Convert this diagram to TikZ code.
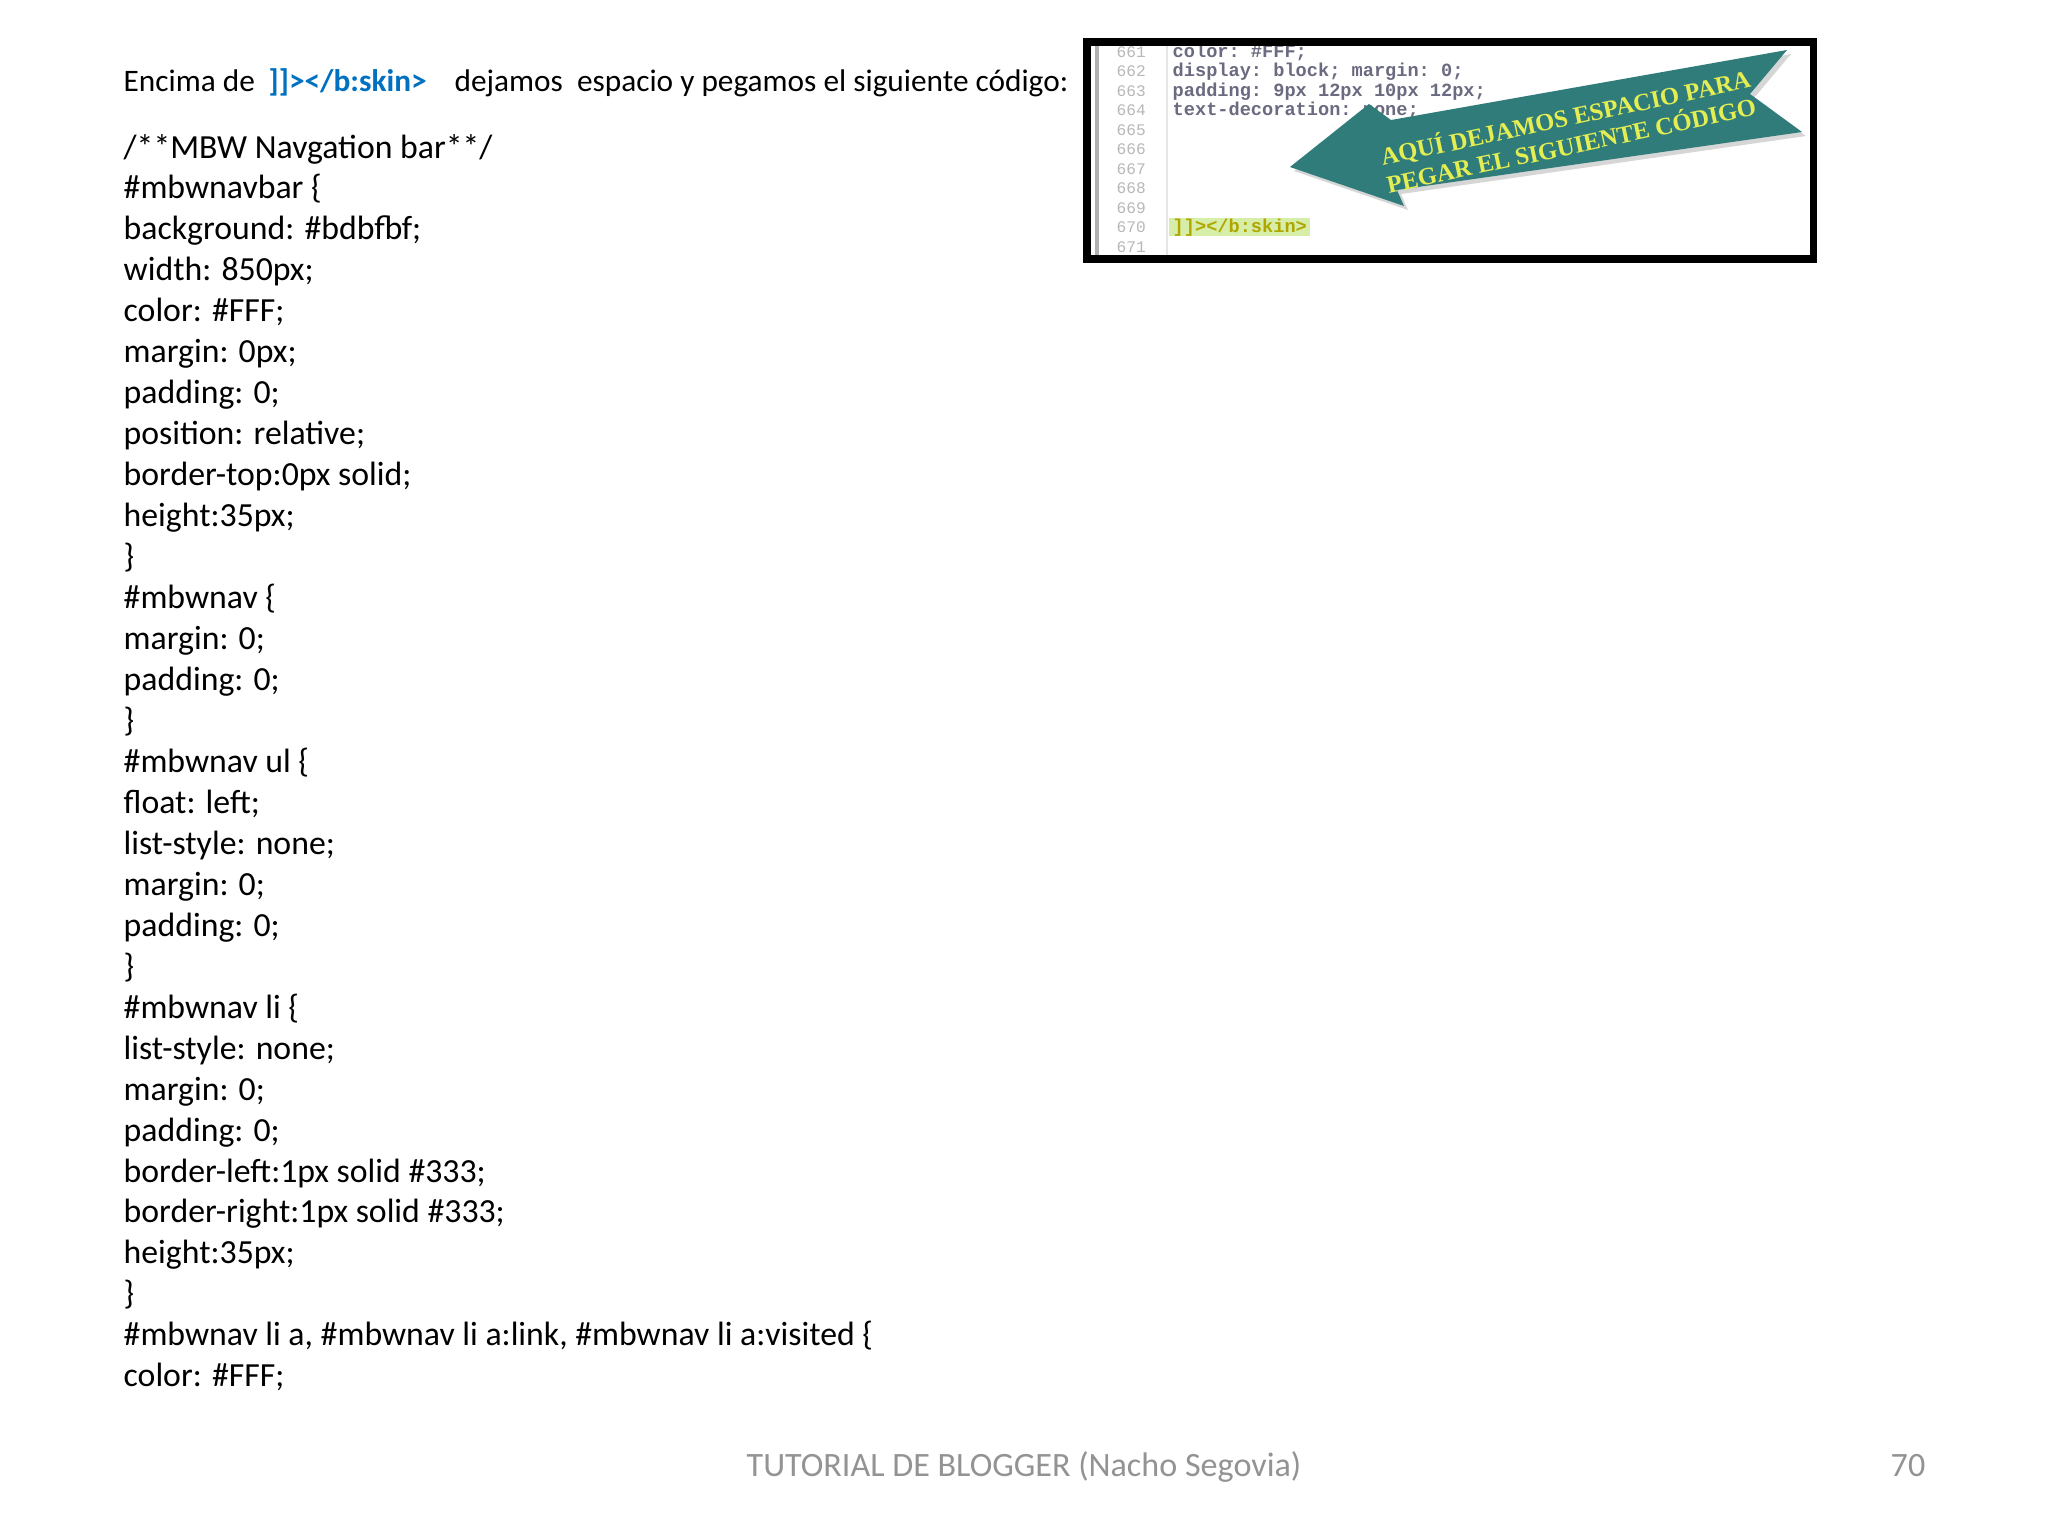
\documentclass[tikz,border=0pt]{standalone}
\usepackage{fontspec}
\setmainfont{Carlito}
\setmonofont{Liberation Mono}
\newfontfamily\serifb{Liberation Serif}
\definecolor{codeblue}{HTML}{0070C0}
\definecolor{teal2}{HTML}{2F7C7A}
\definecolor{lnum}{HTML}{B8B8B8}
\definecolor{codeg}{HTML}{6A6A80}
\begin{document}
\begin{tikzpicture}[x=0.01cm,y=-0.01cm,
  codeline/.style={anchor=base west,inner sep=0,font=\fontsize{9.6}{11}\selectfont},
  ln/.style={anchor=base west,inner sep=0,font=\ttfamily\fontsize{4.6}{5}\selectfont,text=lnum},
  cl/.style={anchor=base west,inner sep=0,font=\ttfamily\bfseries\fontsize{5.3}{6}\selectfont,text=codeg}]
\useasboundingbox (0,0) rectangle (2048,1536);
\node[codeline,font=\fontsize{8.9}{10}\selectfont] (hd) at (123,91) {Encima de};
\node[codeline,font=\bfseries\fontsize{8.9}{10}\selectfont,text=codeblue] (sk) at (268,91) {]]></b:skin>};
\node[codeline,font=\fontsize{8.9}{10}\selectfont] (hd2) at (454,91) {dejamos\ \ espacio y pegamos el siguiente código:};
\foreach \t [count=\i from 0] in {{/**MBW Navgation bar**/},{\#mbwnavbar \{},{background: \#bdbfbf;},{width: 850px;},{color: \#FFF;},{margin: 0px;},{padding: 0;},{position: relative;},{border-top:0px solid;},{height:35px;},{\}},{\#mbwnav \{},{margin: 0;},{padding: 0;},{\}},{\#mbwnav ul \{},{float: left;},{list-style: none;},{margin: 0;},{padding: 0;},{\}},{\#mbwnav li \{},{list-style: none;},{margin: 0;},{padding: 0;},{border-left:1px solid \#333;},{border-right:1px solid \#333;},{height:35px;},{\}},{\#mbwnav li a, \#mbwnav li a:link, \#mbwnav li a:visited \{},{color: \#FFF;}}
  \node[codeline] (c\i) at (123,{158+40.96*\i}) {\t};
\node[anchor=base,inner sep=0,font=\fontsize{9.7}{11}\selectfont,text=gray!85] (ft) at (1024,1476) {TUTORIAL DE BLOGGER (Nacho Segovia)};
\node[anchor=base,inner sep=0,font=\fontsize{9.7}{11}\selectfont,text=gray!85] (pg) at (1908,1476) {70};
% inset
\fill[white] (1087,42) rectangle (1813,259);
\fill[yellow!55!green!35] (1169,218) rectangle (1310,236);
\draw[gray!60,line width=1.2] (1097,42) -- (1097,259);
\draw[gray!20] (1167,42) -- (1167,259);
\foreach \n [count=\i from 0] in {661,...,671}
  \node[ln] (l\n) at (1116,{57+19.5*\i}) {\n};
\node[cl] (k1) at (1172,57) {color: \#FFF;};
\node[cl] (k2) at (1172,76.5) {display: block; margin: 0;};
\node[cl] (k3) at (1172,96) {padding: 9px 12px 10px 12px;};
\node[cl] (k4) at (1172,115.5) {text-decoration: none;};
\node[cl,text=olive!70!yellow] (k10) at (1172,232) {]]></b:skin>};
\fill[black!40,opacity=0.4] (1294,171)--(1373,108)--(1395,124)--(1791,54)--(1754,98)--(1806,136)--(1401,194)--(1408,210)--cycle;
\fill[teal2] (1290,167)--(1369,104)--(1391,120)--(1787,50)--(1750,94)--(1802,132)--(1397,190)--(1404,206)--cycle;
\node[rotate=12,align=center,text=yellow!85!green!70,font=\serifb\bfseries\fontsize{7.0}{8.0}\selectfont,inner sep=0] (ar) at (1568,130) {AQUÍ DEJAMOS ESPACIO PARA\\PEGAR EL SIGUIENTE CÓDIGO};
\draw[line width=2] (1087,42) rectangle (1813,259);
\end{tikzpicture}
\end{document}
